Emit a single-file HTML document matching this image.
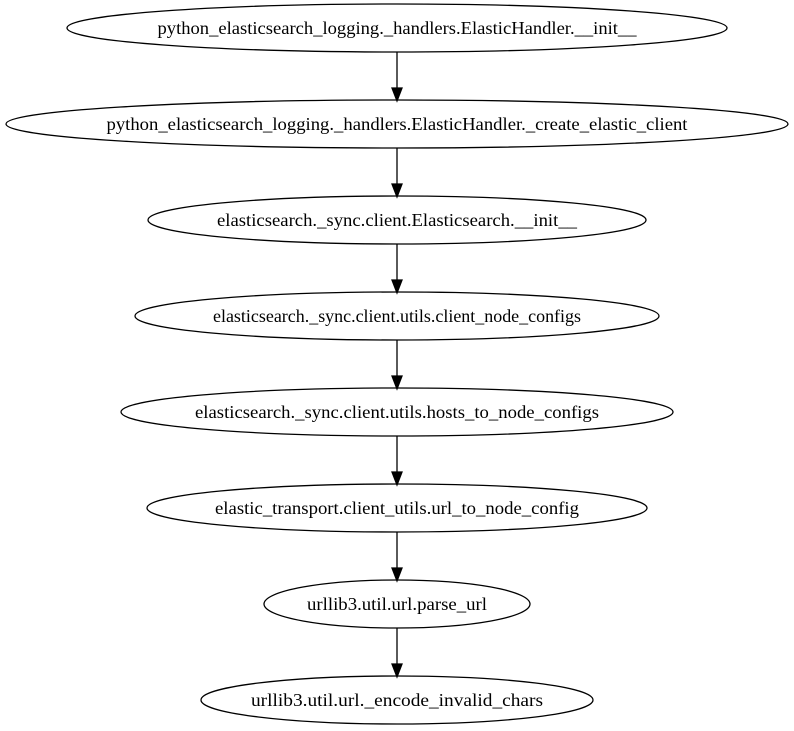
<!DOCTYPE html>
<html><head><style>html,body{margin:0;padding:0;background:#fff;}svg{display:block}</style></head>
<body>
<svg width="794" height="731" viewBox="0 0 794 731" xmlns="http://www.w3.org/2000/svg">
<g fill="none" stroke="#000" stroke-width="1.3">
<ellipse cx="397" cy="28" rx="330" ry="24"/>
<ellipse cx="397" cy="124" rx="391" ry="24"/>
<ellipse cx="397" cy="220" rx="249" ry="24"/>
<ellipse cx="397" cy="316" rx="262" ry="24"/>
<ellipse cx="397" cy="412" rx="276" ry="24"/>
<ellipse cx="397" cy="508" rx="250" ry="24"/>
<ellipse cx="397" cy="604" rx="133" ry="24"/>
<ellipse cx="397" cy="700" rx="196" ry="24"/>
</g>
<g stroke="#000" stroke-width="1.3" fill="#000">
<line x1="397" y1="52" x2="397" y2="90"/><path d="M392,88 L397,101 L402,88z"/>
<line x1="397" y1="148" x2="397" y2="186"/><path d="M392,184 L397,197 L402,184z"/>
<line x1="397" y1="244" x2="397" y2="282"/><path d="M392,280 L397,293 L402,280z"/>
<line x1="397" y1="340" x2="397" y2="378"/><path d="M392,376 L397,389 L402,376z"/>
<line x1="397" y1="436" x2="397" y2="474"/><path d="M392,472 L397,485 L402,472z"/>
<line x1="397" y1="532" x2="397" y2="570"/><path d="M392,568 L397,581 L402,568z"/>
<line x1="397" y1="628" x2="397" y2="666"/><path d="M392,664 L397,677 L402,664z"/>
</g>
<g font-family="Liberation Serif, serif" font-size="18" text-anchor="middle" fill="#000">
<text x="397" y="34" textLength="479" lengthAdjust="spacingAndGlyphs">python_elasticsearch_logging._handlers.ElasticHandler.__init__</text>
<text x="397" y="130" textLength="581" lengthAdjust="spacingAndGlyphs">python_elasticsearch_logging._handlers.ElasticHandler._create_elastic_client</text>
<text x="397" y="226" textLength="360" lengthAdjust="spacingAndGlyphs">elasticsearch._sync.client.Elasticsearch.__init__</text>
<text x="397" y="322" textLength="368" lengthAdjust="spacingAndGlyphs">elasticsearch._sync.client.utils.client_node_configs</text>
<text x="397" y="418" textLength="404" lengthAdjust="spacingAndGlyphs">elasticsearch._sync.client.utils.hosts_to_node_configs</text>
<text x="397" y="514" textLength="364" lengthAdjust="spacingAndGlyphs">elastic_transport.client_utils.url_to_node_config</text>
<text x="397" y="610" textLength="180" lengthAdjust="spacingAndGlyphs">urllib3.util.url.parse_url</text>
<text x="397" y="706" textLength="292" lengthAdjust="spacingAndGlyphs">urllib3.util.url._encode_invalid_chars</text>
</g>
</svg>
</body></html>
